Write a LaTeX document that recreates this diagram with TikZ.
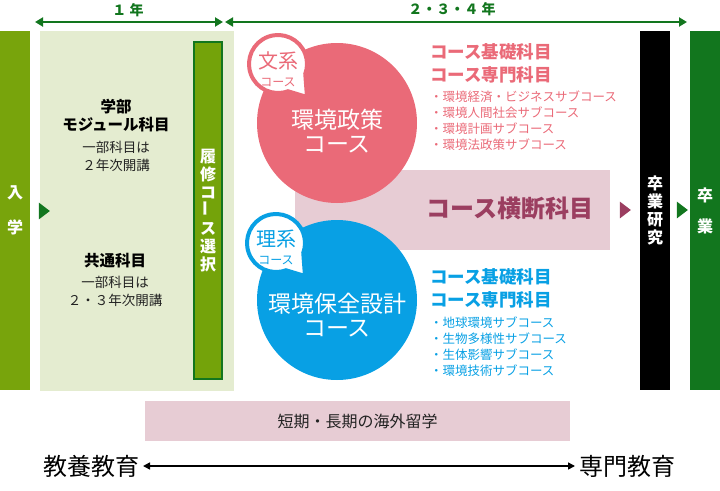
\documentclass[tikz,border=0pt]{standalone}
\usepackage{fontspec}
\setmainfont{Noto Sans CJK JP}
\usetikzlibrary{shapes.geometric,arrows.meta}
\definecolor{entgreen}{HTML}{78A40C}
\definecolor{boxgreen}{HTML}{E4ECD0}
\definecolor{selgreen}{HTML}{74A30A}
\definecolor{darkgreen}{HTML}{12761E}
\definecolor{bunpink}{HTML}{EA6A78}
\definecolor{riblue}{HTML}{08A0E4}
\definecolor{bandpink}{HTML}{E7CCD4}
\definecolor{crossred}{HTML}{9B3E60}
\definecolor{textgray}{HTML}{222222}
\newcommand{\tatebar}{\rotatebox{90}{ー}}

\begin{document}
\begin{tikzpicture}[x=1pt, y=-1pt,
    every node/.style={inner sep=0pt, outer sep=0pt},
    barbox/.style={rectangle, text=white, align=center, font=\bfseries\fontsize{16}{18}\selectfont},
    marker/.style={isosceles triangle, isosceles triangle apex angle=75, minimum height=11pt, minimum width=12pt, draw=none},
    yeartip/.style={darkgreen, line width=2pt, {Triangle[length=8pt, width=9pt]}-{Triangle[length=8pt, width=9pt]}},
    bubble/.style={fill=white, line width=4pt},
    course/.style={text=white, align=center, font=\fontsize{23}{24}\selectfont},
    kamoku/.style={align=left, anchor=west, font=\bfseries\fontsize{17.5}{23}\selectfont},
    subcourse/.style={align=left, anchor=west, font=\fontsize{12.5}{15.9}\selectfont}]
  \useasboundingbox (0, 0) rectangle (720, 490);

  \node (Y1) [text=darkgreen, font=\bfseries\fontsize{14}{14}\selectfont] at (128, 10) {１ 年};
  \node (Y2) [text=darkgreen, font=\bfseries\fontsize{14}{14}\selectfont] at (452, 9) {２・３・４ 年};
  \coordinate (A1) at (35, 22);
  \coordinate (A2) at (223, 22);
  \coordinate (A3) at (225, 22);
  \coordinate (A4) at (687, 22);
  \draw [yeartip] (A1) -- (A2);
  \draw [yeartip] (A3) -- (A4);

  \begin{scope}[every node/.style={barbox, minimum width=30pt, minimum height=359pt}]
    \node (ENT) [fill=entgreen] at (15, 210.5) {入\\[17pt]学};
    \node (LB) [fill=boxgreen] [minimum width=194pt, minimum height=360pt] at (137, 211) {};
    \node (SEL) [fill=selgreen, draw=darkgreen, line width=2pt, minimum width=28pt, minimum height=337pt] at (208, 210.5) {履\\修\\コ\\\tatebar\\ス\\選\\択};
    \node (THS) [fill=black] at (655, 210.5) {卒\\業\\研\\究};
    \node (GRAD) [fill=darkgreen] at (705, 210.5) {卒\\[13pt]業};
  \end{scope}

  \node (MOD) [align=center, text=black, font=\bfseries\fontsize{15.5}{18}\selectfont] at (116, 116) {学部\\モジュール科目};
  \node (MODN) [align=center, text=textgray, font=\fontsize{13.5}{18}\selectfont] at (116, 156) {一部科目は\\２年次開講};
  \node (COM) [align=center, text=black, font=\bfseries\fontsize{15.5}{18}\selectfont] at (115, 261) {共通科目};
  \node (COMN) [align=center, text=textgray, font=\fontsize{13.5}{18}\selectfont] at (115, 291.5) {一部科目は\\２・３年次開講};

  \node (CROSS) [fill=bandpink, minimum width=315pt, minimum height=80pt] at (452.5, 210) {};
  \node (BUN) [circle, fill=bunpink, minimum size=160pt] at (337, 123) {};
  \node (RI) [circle, fill=riblue, minimum size=160pt] at (337, 300) {};
  \node (BUNT) [course] at (337, 131.5) {環境政策\\コース};
  \node (RIT) [course] at (337, 315.5) {環境保全設計\\コース};

  \coordinate (BUNC) at (278, 64);
  \coordinate (RIC) at (276, 243);
  \filldraw [bubble, draw=bunpink] (BUNC) ++(70:29) arc[start angle=70, end angle=380, radius=29] -- (307, 97) -- cycle;
  \filldraw [bubble, draw=riblue] (RIC) ++(70:29) arc[start angle=70, end angle=380, radius=29] -- (305, 276) -- cycle;
  \node (BUNS) [text=bunpink, align=center, font=\fontsize{20}{18}\selectfont] at (278, 69) {文系\\{\fontsize{12}{12}\selectfont コース}};
  \node (RIS) [text=riblue, align=center, font=\fontsize{20}{18}\selectfont] at (276, 247) {理系\\{\fontsize{12}{12}\selectfont コース}};

  \node (CROSST) [text=crossred, font=\bfseries\fontsize{24}{24}\selectfont] at (510, 208) {コース横断科目};
  \node (T1) [marker, fill=darkgreen] at (43, 211) {};
  \node (T2) [marker, fill=crossred] at (624, 210) {};
  \node (T3) [marker, fill=darkgreen] at (681, 210) {};

  \node (BUNK) [kamoku, text=bunpink] at (430, 63.5) {コース基礎科目\\コース専門科目};
  \node (BUNL) [subcourse, text=bunpink] at (430, 121) {・環境経済・ビジネスサブコース\\・環境人間社会サブコース\\・環境計画サブコース\\・環境法政策サブコース};
  \node (RIK) [kamoku, text=riblue] at (430, 288.5) {コース基礎科目\\コース専門科目};
  \node (RIL) [subcourse, text=riblue] at (430, 346.5) {・地球環境サブコース\\・生物多様性サブコース\\・生体影響サブコース\\・環境技術サブコース};

  \node (ABR) [fill=bandpink, text=textgray, minimum width=425pt, minimum height=40pt, font=\fontsize{16}{16}\selectfont] at (357.5, 421) {短期・長期の海外留学};
  \node (GEN) [text=black, font=\fontsize{24}{24}\selectfont] at (91, 466) {教養教育};
  \node (SPE) [text=black, font=\fontsize{24}{24}\selectfont] at (627, 466) {専門教育};
  \draw [line width=1.5pt, {Triangle[length=7pt, width=7pt]}-{Triangle[length=7pt, width=7pt]}] ([xshift=4pt]GEN.east) -- ([xshift=-4pt]SPE.west);
\end{tikzpicture}
\end{document}
